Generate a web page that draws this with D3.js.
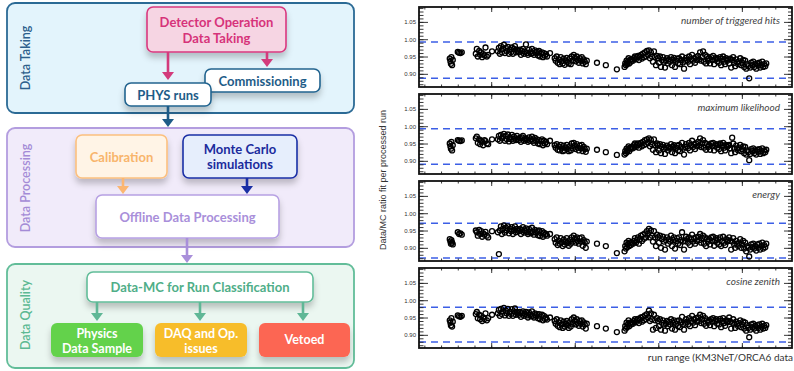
<!DOCTYPE html>
<html><head><meta charset="utf-8">
<script src="https://cdn.jsdelivr.net/npm/d3@7"></script>
<style>body{margin:0;background:#fff}svg{display:block}</style>
</head><body><svg id="c" width="794" height="371"></svg>
<script>
// ---------------- DATA ----------------
const runs = [
7252,7256,7259,7262,7266,7270,
7300,7308,7316,7324,
7408,7414,7420,7428,7434,7440,7446,7452,7460,7466,7474,7482,
7505,
7540,7546,7552,7558,7564,7570,7576,7582,7588,7594,7600,7606,7612,7618,7624,7630,7636,7642,7648,7654,7660,
7666,7672,7678,7684,7690,7696,7702,7708,7714,7720,7726,7732,7738,7744,7750,7756,7762,7768,7774,7780,7786,7792,7798,7804,7810,7816,7822,7828,7834,
7852,
7880,7886,7892,7898,7904,7910,7916,7922,7928,7934,7940,7946,7952,7958,7964,7970,7976,7982,7988,7994,8000,8006,8012,8018,8024,8030,8036,8042,8048,8054,8060,8066,8072,
8133,8186,8252,
8298,8302,8306,8310,8314,8318,8322,8326,8330,
8336,8342,8348,8354,8360,8366,8372,8378,8384,8390,8396,8402,8408,8414,8420,8426,8432,
8438,8444,8450,8456,8462,8468,8474,8480,8486,8492,
8498,8504,8510,8516,8522,8528,8534,8540,8546,8552,
8558,8564,8570,8576,8582,8588,8594,8600,8606,8612,
8618,8624,8630,8636,8642,8648,8654,8660,8666,8672,
8678,8684,8690,8696,8702,8708,8714,8720,8726,8732,
8738,8744,8750,8756,8762,8768,8774,8780,8786,8792,
8798,8804,8810,8816,8822,8828,8834,8840,8846,8852,
8858,8864,8870,8876,8882,8888,8894,8900,8906,8912,
8918,8924,8930,8936,8942,8948,8954,8960,8966,8972,
8978,8984,8990,8996,9002,9008,9014,9020,9026,9032,
9038,9044,9050,9056,9062,9068,9074,9080,9086,9092,
9098,9104,9110,9116,9122,9128,9134,9140,9146
];

const hitsRatio = [
.944,.936,.929,.948,.925,.940,
.963,.961,.960,.962,
.958,.972,.950,.966,.955,.962,.948,.957,.953,.976,.950,.955,
.965,
.965,.975,.958,.980,.962,.972,.984,.960,.975,.966,.978,.958,.970,.962,.976,.958,.972,.980,.962,.970,.966,
.962,.970,.955,.966,.972,.958,.964,.985,.960,.955,.970,.962,.958,.972,.960,.955,.968,.962,.964,.953,.966,.950,.958,.962,.948,.960,.952,.957,.950,
.960,
.945,.938,.950,.932,.942,.928,.948,.936,.930,.944,.926,.938,.946,.934,.930,.944,.928,.950,.938,.955,.946,.936,.950,.940,.932,.945,.938,.948,.930,.942,.935,.928,.938,
.932,.925,.913,
.920,.930,.925,.938,.928,.935,.945,.930,.940,
.935,.942,.938,.945,.950,.942,.948,.952,.940,.950,.955,.944,.958,.948,.962,.950,.966,
.955,.968,.945,.962,.950,.935,.965,.948,.925,.952,
.945,.932,.950,.920,.940,.948,.935,.918,.938,.945,
.930,.942,.935,.948,.925,.940,.946,.920,.938,.944,
.930,.945,.928,.940,.950,.933,.915,.938,.946,.940,
.935,.950,.928,.942,.955,.938,.945,.932,.948,.940,
.952,.942,.962,.938,.948,.965,.935,.955,.930,.950,
.938,.945,.930,.948,.940,.952,.928,.942,.946,.936,
.944,.932,.948,.925,.943,.950,.935,.928,.945,.938,
.942,.930,.944,.918,.940,.948,.932,.922,.942,.934,
.928,.936,.945,.925,.932,.940,.920,.938,.915,.928,
.922,.887,.918,.932,.925,.935,.920,.928,.915,.930,
.924,.932,.918,.926,.935,.920,.928,.922,.930
];

const likelihoodRatio = [
.950,.942,.935,.955,.930,.945,
.960,.958,.957,.959,
.965,.970,.952,.962,.948,.958,.955,.945,.960,.957,.950,.948,
.962,
.962,.972,.958,.975,.965,.970,.978,.958,.972,.962,.976,.956,.968,.962,.975,.958,.970,.965,.960,.972,.964,
.960,.966,.955,.968,.972,.958,.962,.965,.960,.955,.968,.958,.962,.970,.958,.952,.966,.958,.962,.950,.960,.948,.956,.962,.945,.958,.950,.955,.948,
.958,
.945,.938,.948,.932,.942,.930,.946,.936,.928,.944,.930,.938,.946,.934,.928,.942,.930,.950,.936,.952,.944,.934,.948,.938,.930,.944,.936,.946,.928,.940,.934,.926,.935,
.932,.925,.917,
.918,.928,.922,.935,.926,.932,.942,.928,.938,
.935,.940,.936,.945,.950,.940,.946,.950,.938,.948,.952,.942,.955,.946,.960,.948,.962,
.952,.965,.942,.960,.948,.932,.962,.945,.925,.950,
.945,.930,.948,.922,.940,.946,.935,.920,.938,.944,
.930,.940,.935,.948,.925,.940,.945,.922,.938,.944,
.930,.946,.928,.940,.952,.935,.918,.940,.948,.942,
.936,.952,.930,.945,.958,.940,.948,.934,.950,.942,
.955,.944,.965,.940,.950,.960,.938,.952,.932,.948,
.940,.946,.932,.950,.942,.952,.930,.944,.948,.938,
.946,.934,.950,.928,.945,.952,.938,.930,.946,.940,
.944,.946,.936,.922,.967,.950,.935,.925,.944,.936,
.930,.938,.946,.928,.934,.942,.922,.940,.918,.930,
.925,.902,.920,.934,.928,.936,.922,.930,.918,.932,
.926,.934,.920,.928,.936,.922,.930,.925,.932
];

const energyRatio = [
.925,.918,.912,.922,.915,.910,
.945,.940,.942,.938,
.950,.945,.935,.952,.940,.948,.932,.942,.938,.946,.935,.930,
.948,
.945,.882,.950,.962,.940,.955,.965,.944,.958,.950,.962,.942,.955,.948,.960,.940,.952,.962,.945,.955,.950,
.948,.955,.940,.952,.960,.944,.950,.956,.945,.940,.955,.946,.942,.958,.945,.938,.952,.944,.948,.936,.950,.934,.942,.948,.932,.944,.938,.940,.935,
.940,
.925,.915,.930,.908,.920,.912,.928,.916,.905,.924,.910,.918,.928,.914,.906,.922,.912,.930,.918,.935,.926,.915,.930,.920,.912,.928,.918,.930,.906,.922,.916,.900,.918,
.912,.905,.885,
.890,.905,.898,.915,.902,.910,.920,.905,.915,
.908,.915,.912,.920,.928,.915,.922,.930,.912,.925,.935,.920,.938,.926,.942,.930,.948,
.940,.955,.930,.950,.935,.918,.948,.930,.905,.938,
.930,.915,.935,.900,.925,.932,.918,.895,.922,.930,
.912,.925,.918,.935,.905,.922,.930,.898,.920,.928,
.912,.930,.908,.922,.945,.918,.895,.920,.932,.925,
.915,.930,.908,.925,.938,.918,.928,.912,.930,.920,
.932,.922,.940,.915,.928,.935,.912,.930,.905,.925,
.918,.925,.910,.930,.920,.932,.906,.922,.928,.915,
.925,.910,.930,.905,.920,.932,.915,.908,.925,.918,
.922,.930,.920,.895,.918,.928,.910,.900,.920,.912,
.905,.915,.925,.900,.910,.920,.898,.915,.890,.905,
.900,.875,.895,.910,.902,.912,.898,.905,.892,.910,
.900,.912,.895,.905,.915,.898,.908,.902,.912
];

const cosZenithRatio = [
.942,.935,.927,.948,.924,.938,
.956,.954,.952,.955,
.960,.966,.948,.958,.945,.955,.940,.950,.946,.962,.942,.948,
.958,
.962,.972,.955,.975,.960,.968,.978,.956,.970,.962,.975,.955,.966,.960,.974,.955,.968,.976,.958,.966,.962,
.958,.966,.952,.962,.968,.955,.960,.966,.956,.950,.965,.958,.954,.968,.955,.950,.962,.956,.960,.948,.960,.945,.952,.958,.942,.955,.946,.950,.944,
.950,
.940,.932,.945,.926,.936,.922,.942,.930,.920,.938,.924,.932,.940,.928,.920,.936,.924,.945,.932,.950,.940,.930,.945,.934,.926,.940,.932,.942,.924,.936,.930,.918,.932,
.925,.918,.908,
.912,.925,.918,.935,.922,.930,.942,.925,.935,
.930,.936,.932,.940,.945,.936,.942,.946,.934,.944,.950,.938,.952,.942,.956,.945,.960,
.950,.970,.940,.962,.945,.915,.958,.942,.920,.948,
.940,.925,.945,.915,.935,.942,.930,.912,.932,.940,
.925,.938,.930,.945,.918,.935,.942,.915,.932,.940,
.925,.942,.922,.936,.952,.930,.915,.935,.945,.938,
.930,.948,.925,.940,.955,.935,.945,.928,.948,.938,
.950,.940,.958,.934,.945,.955,.932,.948,.926,.942,
.935,.942,.928,.945,.938,.948,.925,.940,.945,.932,
.942,.930,.946,.922,.940,.948,.934,.926,.942,.936,
.940,.950,.938,.918,.935,.945,.930,.920,.938,.932,
.925,.934,.942,.922,.930,.938,.918,.935,.912,.928,
.920,.893,.915,.930,.922,.932,.918,.926,.912,.928,
.920,.930,.915,.924,.932,.918,.926,.920,.928
];

const panelNames = ["number of triggered hits", "maximum likelihood", "energy", "cosine zenith"];
const upperLimits = [0.992, 0.993, 0.971, 0.980];
const lowerLimits = [0.887, 0.890, 0.871, 0.879];
const yTickValues = [0.90, 0.95, 1.00, 1.05];
const yMinorTickValues = [0.87,0.88,0.89,0.90,0.91,0.92,0.93,0.94,0.95,0.96,0.97,0.98,0.99,1.00,1.01,1.02,1.03,1.04,1.05,1.06,1.07,1.08,1.09];
const xTickValues = [7500, 8000, 8500, 9000];
const xMinorTickValues = [7100,7200,7300,7400,7500,7600,7700,7800,7900,8000,8100,8200,8300,8400,8500,8600,8700,8800,8900,9000,9100,9200];
const seriesValues = [hitsRatio, likelihoodRatio, energyRatio, cosZenithRatio];

// ---------------- DRAW ----------------
const svg = d3.select("#c");
const defs = svg.append("defs");
const f = defs.append("filter").attr("id","sh").attr("x","-20%").attr("y","-30%").attr("width","140%").attr("height","190%");
f.append("feDropShadow").attr("dx",0).attr("dy",5).attr("stdDeviation",3).attr("flood-color","#000").attr("flood-opacity",0.22);

const boxFont = "Lato, 'Open Sans', sans-serif";

function sect(x,y,w,h,fill,stroke,label,color,cy){
  svg.append("rect").attr("x",x).attr("y",y).attr("width",w).attr("height",h).attr("rx",8)
    .attr("fill",fill).attr("stroke",stroke).attr("stroke-width",1.8);
  svg.append("text").attr("transform",`translate(30,${cy}) rotate(-90)`).attr("text-anchor","middle")
    .attr("font-family",boxFont).attr("font-size",12.5).attr("font-weight",600).attr("fill",color).text(label);
}
function box(x,y,w,h,fill,stroke,lines,color,size,lineYs,shadow){
  const r = svg.append("rect").attr("x",x).attr("y",y).attr("width",w).attr("height",h).attr("rx",6)
    .attr("fill",fill).attr("stroke",stroke).attr("stroke-width",stroke==="none"?0:1.6);
  if(shadow) r.attr("filter","url(#sh)");
  lines.forEach((t,i)=>{
    svg.append("text").attr("x",x+w/2).attr("y",lineYs[i]).attr("text-anchor","middle").attr("dominant-baseline","central")
      .attr("font-family",boxFont).attr("font-size",size).attr("font-weight",700).attr("fill",color).text(t);
  });
}
function arrow(x,y1,y2,color){
  const hh=8, hw=6;
  svg.append("line").attr("x1",x).attr("x2",x).attr("y1",y1).attr("y2",y2-hh+1).attr("stroke",color).attr("stroke-width",2.6);
  svg.append("path").attr("d",`M${x-hw},${y2-hh}L${x+hw},${y2-hh}L${x},${y2}Z`).attr("fill",color);
}

// Section: Data Taking
sect(7,3,347,110,"#e3f4fc","#2b6a95","Data Taking","#2d5f8c",58);
box(147,7,139,45,"#f6d5e3","#d9397f",["Detector Operation","Data Taking"],"#d6337a",13,[22,38],true);
arrow(168,52,80,"#d33b7c");
arrow(267,52,67,"#d33b7c");
box(205,69,115,23,"#ffffff","#23648f",["Commissioning"],"#1e5c88",13,[81],true);
box(125,83,86,23,"#ffffff","#23648f",["PHYS runs"],"#1e5c88",13,[94.5],true);
arrow(168,106,127,"#1e5c88");

// Section: Data Processing
sect(7,128,347,119,"#f1ebfa","#b39ddf","Data Processing","#a48bd6",188);
box(76,135,91,43,"#fff4e6","#fcc07f",["Calibration"],"#f8b56c",13,[157],true);
box(183,135,114,43,"#e6eefc","#1a2fa5",["Monte Carlo","simulations"],"#1b2b9c",13,[148.5,164],true);
arrow(123,178,194,"#fbb672");
arrow(247,178,194,"#1a2fa5");
box(96,195,183,43,"#ffffff","#b7a1e3",["Offline Data Processing"],"#a98fda",13,[217],true);
arrow(187,238,263,"#a98fda");

// Section: Data Quality
sect(7,264,347,104,"#ebf7f1","#62bd99","Data Quality","#5cb993",315);
box(87,272,226,30,"#ffffff","#62bd99",["Data-MC for Run Classification"],"#4fae88",13,[286.5],true);
arrow(97,302,321,"#5fb796");
arrow(200,302,321,"#5fb796");
arrow(303,302,321,"#5fb796");
box(51,323,92,34,"#63d24b","none",["Physics","Data Sample"],"#ffffff",12.5,[333,348],true);
box(155,323,92,34,"#f7bd2b","none",["DAQ and Op.","issues"],"#ffffff",12.5,[333,348],true);
box(259,323,91,34,"#fc6652","none",["Vetoed"],"#ffffff",12.5,[339],true);

// ---- Scatter panels ----
const left=419, right=792, ph=80, tops=[7,94,181,268];
const x = d3.scaleLinear().domain([7068,9300]).range([left,right]);
const tickFont = "'Liberation Sans', Arial, sans-serif";

tops.forEach((top,p)=>{
  const y = d3.scaleLinear().domain([0.862,1.093]).range([top+ph,top]);
  const g = svg.append("g");
  [upperLimits[p], lowerLimits[p]].forEach(v=>{
    g.append("line").attr("x1",left).attr("x2",right).attr("y1",y(v)).attr("y2",y(v))
      .attr("stroke","#3c5fe6").attr("stroke-width",1.5).attr("stroke-dasharray","7,5");
  });
  const vals = seriesValues[p];
  g.append("g").selectAll("circle").data(runs).join("circle")
    .attr("cx",d=>x(d)).attr("cy",(d,i)=>y(vals[i])).attr("r",2.5)
    .attr("fill","none").attr("stroke","#000").attr("stroke-width",1.3);
  const axL = g.append("g").attr("transform",`translate(${left},0)`)
    .call(d3.axisLeft(y).tickValues(yTickValues).tickSize(-9).tickPadding(3).tickFormat(d3.format(".2f")));
  const axLm = g.append("g").attr("transform",`translate(${left},0)`)
    .call(d3.axisLeft(y).tickValues(yMinorTickValues).tickSize(-4.5).tickFormat(""));
  const axR = g.append("g").attr("transform",`translate(${right},0)`)
    .call(d3.axisRight(y).tickValues(yTickValues).tickSize(-8).tickFormat(""));
  const axRm = g.append("g").attr("transform",`translate(${right},0)`)
    .call(d3.axisRight(y).tickValues(yMinorTickValues).tickSize(-4).tickFormat(""));
  const axT = g.append("g").attr("transform",`translate(0,${top})`)
    .call(d3.axisTop(x).tickValues(xTickValues).tickSize(-5).tickFormat(""));
  const axTm = g.append("g").attr("transform",`translate(0,${top})`)
    .call(d3.axisTop(x).tickValues(xMinorTickValues).tickSize(-2.5).tickFormat(""));
  const axB = g.append("g").attr("transform",`translate(0,${top+ph})`)
    .call(d3.axisBottom(x).tickValues(xTickValues).tickSize(-5).tickFormat(""));
  const axBm = g.append("g").attr("transform",`translate(0,${top+ph})`)
    .call(d3.axisBottom(x).tickValues(xMinorTickValues).tickSize(-2.5).tickFormat(""));
  [axL,axLm,axR,axRm,axT,axTm,axB,axBm].forEach(a=>{
    a.select(".domain").remove();
    a.selectAll("line").attr("stroke","#222").attr("stroke-width",0.9);
    a.selectAll("text").attr("font-family",tickFont).attr("font-size",6).attr("fill","#333");
  });
  g.append("rect").attr("x",left).attr("y",top).attr("width",right-left).attr("height",ph)
    .attr("fill","none").attr("stroke","#111").attr("stroke-width",1.8);
  g.append("text").attr("x",780).attr("y",top+17).attr("text-anchor","end")
    .attr("font-family",boxFont).attr("font-style","italic").attr("font-size",10).attr("fill","#444").text(panelNames[p]);
});

svg.append("text").attr("transform","translate(386,180) rotate(-90)").attr("text-anchor","middle")
  .attr("font-family",tickFont).attr("font-size",9).attr("fill","#333").text("Data/MC ratio fit per processed run");
svg.append("text").attr("x",793).attr("y",361).attr("text-anchor","end")
  .attr("font-family",boxFont).attr("font-size",10).attr("fill","#333").text("run range (KM3NeT/ORCA6 data");
</script></body></html>
